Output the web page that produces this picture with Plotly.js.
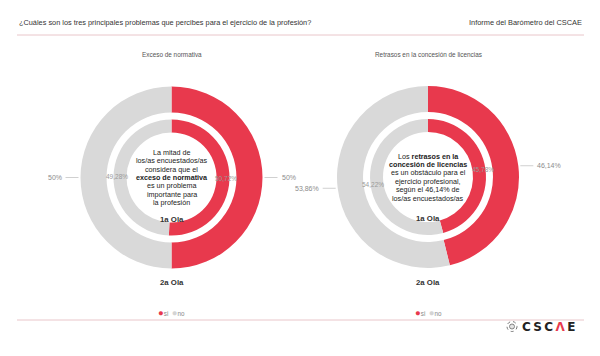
<!DOCTYPE html>
<html>
<head>
<meta charset="utf-8">
<script src="https://cdn.plot.ly/plotly-3.0.1.min.js"></script>
<style>html,body{margin:0;padding:0;background:#fff;}#chart{width:600px;height:356px;}</style>
</head>
<body>
<div id="chart"></div>
<script>
// ---- data ----
const categories = ['si', 'no'];
const ola2_normativa = [50, 50];
const ola1_normativa = [50.72, 49.28];
const ola2_licencias = [46.14, 53.86];
const ola1_licencias = [45.78, 54.22];
const panelTitles = ['Exceso de normativa', 'Retrasos en la concesión de licencias'];
const centerLines = [
  ['La mitad de', 'los/as encuestados/as', 'considera que el', '<b>exceso de normativa</b>', 'es un problema', 'importante para', 'la profesión'],
  ['Los <b>retrasos en la</b>', '<b>concesión de licencias</b>', 'es un obstáculo para el', 'ejercicio profesional,', 'según el 46,14% de', 'los/as encuestados/as']
];
const waveInner = '1a Ola';
const waveOuter = '2a Ola';
const mainTitle = '¿Cuáles son los tres principales problemas que percibes para el ejercicio de la profesión?';
const reportTitle = 'Informe del Barómetro del CSCAE';

// ---- layout constants ----
const W = 600, H = 356;
const FONT = 'Liberation Sans, Arial, sans-serif';
const RED = '#e8394d', GREY = '#d9d9d9';
const centers = [[171.5, 177.5], [428, 177]];
const R_OUT = 91, HOLE_OUT = 0.714;
const R_IN = 58, HOLE_IN = 0.776;
const LINE_H = 8.4;

const px = x => x / W;
const py = y => 1 - y / H;
function domain(c, r) {
  return { x: [px(c[0] - r), px(c[0] + r)], y: [py(c[1] + r), py(c[1] - r)] };
}
function fmt(v) {
  return (Number.isInteger(v) ? String(v) : v.toFixed(2).replace('.', ',')) + '%';
}
function midAngles(vals) {
  const tot = vals.reduce((a, b) => a + b, 0);
  let cum = 0;
  return vals.map(v => { const m = (cum + v / 2) / tot; cum += v; return m * 2 * Math.PI; });
}
function txt(x, y, text, size, color, xanchor, family) {
  return { xref: 'paper', yref: 'paper', x: px(x), y: py(y), showarrow: false,
    xanchor: xanchor || 'center', yanchor: 'middle', text: text,
    font: { family: family || FONT, size: size, color: color } };
}

const data = [];
const annotations = [];
const shapes = [];

const sets = [[ola1_normativa, ola2_normativa], [ola1_licencias, ola2_licencias]];
sets.forEach((pair, k) => {
  const c = centers[k];
  const [inner, outer] = pair;
  data.push({
    type: 'pie', values: outer, labels: categories, hole: HOLE_OUT, sort: false,
    direction: 'clockwise', rotation: 0, textinfo: 'none', hoverinfo: 'label+value',
    marker: { colors: [RED, GREY], line: { width: 0 } }, domain: domain(c, R_OUT), showlegend: false
  });
  data.push({
    type: 'pie', values: inner, labels: categories, hole: HOLE_IN, sort: false,
    direction: 'clockwise', rotation: 0, textinfo: 'none', hoverinfo: 'label+value',
    marker: { colors: [RED, GREY], line: { width: 0 } }, domain: domain(c, R_IN), showlegend: false
  });
  // outer labels with horizontal leader lines
  midAngles(outer).forEach((a, i) => {
    const s = Math.sin(a) >= 0 ? 1 : -1;
    const x0 = c[0] + (R_OUT + 2) * Math.sin(a);
    const y0 = c[1] - (R_OUT + 2) * Math.cos(a);
    shapes.push({ type: 'line', xref: 'paper', yref: 'paper', x0: px(x0), x1: px(x0 + s * 13),
      y0: py(y0), y1: py(y0), line: { color: '#c4c4c4', width: 0.8 } });
    annotations.push(txt(x0 + s * 15, y0, fmt(outer[i]), 7, '#8c8c8c', s > 0 ? 'left' : 'right'));
  });
  // inner labels
  midAngles(inner).forEach((a, i) => {
    const r = R_IN - 3;
    annotations.push(txt(c[0] + r * Math.sin(a), c[1] - r * Math.cos(a), fmt(inner[i]), 6.5, '#9a9a9a'));
  });
  // center text, one annotation per line
  const lines = centerLines[k];
  const y0 = c[1] - (lines.length - 1) * LINE_H / 2;
  lines.forEach((l, j) => annotations.push(txt(c[0], y0 + j * LINE_H, l, 7.2, '#222')));
  annotations.push(txt(c[0], c[1] + 41.5, '<b>' + waveInner + '</b>', 7.8, '#333'));
  annotations.push(txt(c[0], 282, '<b>' + waveOuter + '</b>', 7.8, '#333'));
  // panel title
  annotations.push(txt(c[0], 55, panelTitles[k], 6.4, '#555'));
  // legend
  annotations.push(txt(c[0], 312.5,
    '<span style="color:' + RED + ';font-size:9.5px">●</span>' + categories[0] +
    '  <span style="color:#d4d4d4;font-size:9.5px">●</span>' + categories[1], 6.3, '#888'));
});

// header
annotations.push(txt(17, 23, mainTitle, 7.35, '#333', 'left'));
annotations.push(txt(584, 23, reportTitle, 7.4, '#333', 'right'));
shapes.push({ type: 'line', xref: 'paper', yref: 'paper', x0: px(17), x1: px(584), y0: py(35), y1: py(35),
  line: { color: '#e3b7bd', width: 0.8 } });
shapes.push({ type: 'line', xref: 'paper', yref: 'paper', x0: px(17), x1: px(584), y0: py(320), y1: py(320),
  line: { color: '#e3b7bd', width: 0.8 } });
// logo
shapes.push({ type: 'circle', xref: 'paper', yref: 'paper', x0: px(507), x1: px(517), y0: py(331.5), y1: py(321.5),
  line: { color: '#777', width: 1, dash: 'dot' }, fillcolor: '#fff' });
shapes.push({ type: 'circle', xref: 'paper', yref: 'paper', x0: px(509.5), x1: px(514.5), y0: py(329), y1: py(324),
  line: { color: '#777', width: 0.9 }, fillcolor: '#e4e4e4' });
annotations.push(txt(520, 326.5,
  '<b>C\u2009S\u2009C\u2009<span style="color:' + RED + '">Λ</span>\u2009E</b>', 12, '#222', 'left',
  'DejaVu Sans, sans-serif'));

const layout = {
  width: W, height: H, margin: { l: 0, r: 0, t: 0, b: 0 },
  paper_bgcolor: '#fff', plot_bgcolor: '#fff', showlegend: false,
  annotations, shapes, font: { family: FONT }
};
Plotly.newPlot('chart', data, layout, { displayModeBar: false, staticPlot: true });
</script>
</body>
</html>
